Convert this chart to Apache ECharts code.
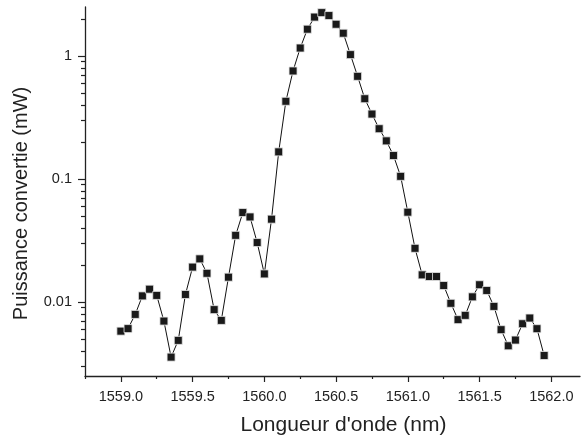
<!DOCTYPE html>
<html>
<head>
<meta charset="utf-8">
<script src="https://cdn.jsdelivr.net/npm/echarts@6/dist/echarts.min.js"></script>
<style>html,body{margin:0;padding:0;background:#fff}#c{width:581px;height:439px}</style>
</head>
<body>
<div id="c"></div>
<script>
var wavelengths = [1559.00,1559.05,1559.10,1559.15,1559.20,1559.25,1559.30,1559.35,1559.40,1559.45,
  1559.50,1559.55,1559.60,1559.65,1559.70,1559.75,1559.80,1559.85,1559.90,1559.95,
  1560.00,1560.05,1560.10,1560.15,1560.20,1560.25,1560.30,1560.35,1560.40,1560.45,
  1560.50,1560.55,1560.60,1560.65,1560.70,1560.75,1560.80,1560.85,1560.90,1560.95,
  1561.00,1561.05,1561.10,1561.15,1561.20,1561.25,1561.30,1561.35,1561.40,1561.45,
  1561.50,1561.55,1561.60,1561.65,1561.70,1561.75,1561.80,1561.85,1561.90,1561.95];
var power = [0.00579,0.00607,0.00792,0.0112,0.0127,0.0113,0.00699,0.00356,0.00487,0.0115,
  0.0192,0.0224,0.0171,0.00866,0.00708,0.0159,0.0348,0.0533,0.0491,0.0304,
  0.0169,0.0471,0.166,0.428,0.755,1.16,1.65,2.07,2.25,2.13,
  1.81,1.53,1.025,0.683,0.449,0.337,0.256,0.204,0.155,0.105,
  0.0537,0.0273,0.0166,0.0161,0.0161,0.0136,0.00975,0.00718,0.00778,0.0110,
  0.0138,0.0124,0.0092,0.00595,0.0044,0.0049,0.00665,0.0074,0.00606,0.00367];
var xMajorTicks = [1559.0,1559.5,1560.0,1560.5,1561.0,1561.5,1562.0];
var xMinorTicks = [1558.75,1559.25,1559.75,1560.25,1560.75,1561.25,1561.75];
var yMajorTicks = [0.01,0.1,1];
var yMinorTicks = [0.003,0.004,0.005,0.006,0.007,0.008,0.009,
  0.02,0.03,0.04,0.05,0.06,0.07,0.08,0.09,
  0.2,0.3,0.4,0.5,0.6,0.7,0.8,0.9,2];

var chart = echarts.init(document.getElementById('c'), null, {renderer:'canvas'});
var txt = '#222';
var font = 'Liberation Sans, Arial, sans-serif';
var data = wavelengths.map(function(w,i){return [w, power[i]];});
chart.setOption({
  animation:false,
  grid:{left:85,right:1,top:7,bottom:63,outerBoundsMode:'none',containLabel:false},
  xAxis:[{
    type:'value',min:1558.75,max:1562.2,position:'bottom',
    name:"Longueur d'onde (nm)",nameLocation:'middle',nameGap:39,
    nameTextStyle:{fontFamily:font,fontSize:21,color:txt,padding:[0,0,0,22]},
    axisLine:{show:true,lineStyle:{color:'#222',width:1.3}},
    axisTick:{show:true,customValues:xMajorTicks,length:6,inside:false,lineStyle:{color:'#222',width:1.2}},
    axisLabel:{customValues:xMajorTicks,margin:13,fontFamily:font,fontSize:14.5,color:txt,
      formatter:function(v){return v.toFixed(1);}},
    splitLine:{show:false}
  },{
    type:'value',min:1558.75,max:1562.2,position:'bottom',
    axisLine:{show:false},
    axisTick:{show:true,customValues:xMinorTicks,length:3,lineStyle:{color:'#222',width:1.2}},
    axisLabel:{show:false},splitLine:{show:false}
  }],
  yAxis:[{
    type:'log',min:0.0025,max:2.5,position:'left',
    name:'Puissance convertie (mW)',nameLocation:'middle',nameGap:54,
    nameTextStyle:{fontFamily:font,fontSize:20,color:txt,padding:[0,24,0,0]},
    axisLine:{show:true,lineStyle:{color:'#222',width:1.3}},
    axisTick:{show:true,customValues:yMajorTicks,length:7,lineStyle:{color:'#222',width:1.2}},
    axisLabel:{customValues:yMajorTicks,margin:13,fontFamily:font,fontSize:14.5,color:txt,
      formatter:function(v){return String(v);}},
    splitLine:{show:false}
  },{
    type:'log',min:0.0025,max:2.5,position:'left',
    axisLine:{show:false},
    axisTick:{show:true,customValues:yMinorTicks,length:4,lineStyle:{color:'#222',width:1.2}},
    axisLabel:{show:false},splitLine:{show:false}
  }],
  series:[{
    type:'line',data:data,xAxisIndex:0,yAxisIndex:0,
    symbol:'rect',symbolSize:8,showAllSymbol:true,
    lineStyle:{color:'#111',width:1},
    itemStyle:{color:'#1a1a1a',borderColor:'#e8e8e8',borderWidth:0.8}
  }]
});
</script>
</body>
</html>
